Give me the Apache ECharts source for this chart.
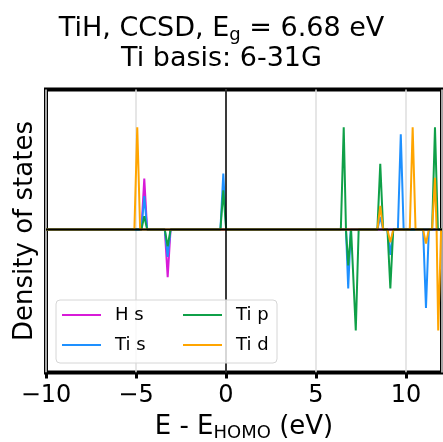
<!DOCTYPE html>
<html>
<head>
<meta charset="utf-8">
<script src="https://cdn.jsdelivr.net/npm/echarts@6/dist/echarts.min.js"></script>
<style>
  html, body { margin: 0; padding: 0; background: #fff; }
  #chart { width: 443px; height: 442px; }
</style>
</head>
<body>
<div id="chart"></div>
<script>
// projected DOS, spin up > 0, spin down < 0 (energy in eV, arbitrary units)
const hsDos = [
  [-10, 0], [-4.70, 0], [-4.54, 0.365], [-4.38, 0],
  [-3.40, 0], [-3.24, -0.34], [-3.08, 0], [12, 0],
];
const tisDos = [
  [-10, 0], [-4.70, 0], [-4.54, 0.24], [-4.38, 0],
  [-3.40, 0], [-3.24, -0.195], [-3.08, 0],
  [-0.31, 0], [-0.15, 0.40], [0.01, 0],
  [6.665, 0], [6.79, -0.42], [6.93, 0],
  [8.41, 0], [8.57, 0.09], [8.73, 0],
  [8.97, 0], [9.13, -0.18], [9.29, 0],
  [9.55, 0], [9.71, 0.68], [9.87, 0],
  [10.95, 0], [11.11, -0.56], [11.27, 0], [12, 0],
];
const tipDos = [
  [-10, 0], [-4.70, 0], [-4.54, 0.096], [-4.38, 0],
  [-3.40, 0], [-3.24, -0.12], [-3.08, 0],
  [-0.31, 0], [-0.15, 0.28], [0.01, 0],
  [6.38, 0], [6.54, 0.73], [6.665, 0], [6.79, -0.255], [6.95, 0],
  [7.05, 0], [7.21, -0.72], [7.37, 0],
  [8.41, 0], [8.57, 0.47], [8.73, 0],
  [8.97, 0], [9.13, -0.42], [9.29, 0],
  [11.45, 0], [11.61, 0.73], [11.77, 0], [12, 0],
];
const tidDos = [
  [-10, 0], [-5.09, 0], [-4.93, 0.73], [-4.77, 0],
  [8.41, 0], [8.57, 0.17], [8.73, 0],
  [8.97, 0], [9.13, -0.09], [9.29, 0],
  [10.21, 0], [10.37, 0.73], [10.53, 0],
  [10.95, 0], [11.11, -0.10], [11.27, 0],
  [11.45, 0], [11.61, 0.37], [11.70, 0], [11.79, -0.72], [11.95, 0], [12, 0],
];
const seriesNames = ['H s', 'Ti s', 'Ti p', 'Ti d'];
const seriesColors = ['#d81bd8', '#1e90ff', '#0fa048', '#ffa500'];
const xTicks = [-10, -5, 0, 5, 10];

const FONT = 'DejaVu Sans';
const chart = echarts.init(document.getElementById('chart'), null, { renderer: 'canvas' });

function dosSeries(name, data, color) {
  return {
    name: name,
    type: 'line',
    data: data,
    symbol: 'none',
    showSymbol: false,
    lineStyle: { color: color, width: 2 },
    itemStyle: { color: color },
    silent: true,
  };
}

const refLine = (data, width) => ({
  type: 'line',
  data: data,
  symbol: 'none',
  silent: true,
  lineStyle: { color: '#000', width: width },
  z: 3,
});

// legend columns: first column wider so the second lines up
const col1 = { width: 56 };
const col2 = { width: 33 };

chart.setOption({
  animation: false,
  backgroundColor: '#fff',
  title: {
    left: 'center',
    top: 9,
    text: '{n|TiH, CCSD, E}{s|g}{n| = 6.68 eV}\n{n|Ti basis: 6-31G}',
    textStyle: {
      rich: {
        n: { fontFamily: FONT, fontSize: 27, fontWeight: 'normal', color: '#000', lineHeight: 30 },
        s: { fontFamily: FONT, fontSize: 18, fontWeight: 'normal', color: '#000', lineHeight: 20, verticalAlign: 'bottom' },
      },
    },
  },
  grid: {
    left: 46, right: 1, top: 89.5, bottom: 69.5,
    containLabel: false,
    outerBoundsMode: 'none',
    show: true, borderColor: '#000', borderWidth: 4,
  },
  legend: {
    data: [
      { name: 'H s', textStyle: col1 },
      { name: 'Ti p', textStyle: col2 },
      { name: 'Ti s', textStyle: col1 },
      { name: 'Ti d', textStyle: col2 },
    ],
    left: 56, top: 300,
    width: 210,
    orient: 'horizontal',
    icon: 'rect',
    itemWidth: 39, itemHeight: 2, itemGap: 12,
    padding: [6, 8, 9, 6],
    backgroundColor: 'rgba(255,255,255,0.8)',
    borderColor: '#d6d6d6', borderWidth: 1, borderRadius: 4,
    textStyle: {
      fontFamily: FONT, fontSize: 18, color: '#000',
      lineHeight: 16, padding: [0, 0, 0, 9],
    },
  },
  xAxis: {
    type: 'value', min: -10, max: 12, interval: 5,
    axisLine: { show: false, onZero: false },
    axisTick: { show: true, length: 6, lineStyle: { color: '#000', width: 3 } },
    axisLabel: {
      fontFamily: FONT, fontSize: 24, color: '#000', margin: 11,
      showMaxLabel: false,
      alignMinLabel: 'center',
      formatter: v => (xTicks.includes(v) ? (v < 0 ? '\u2212' + (-v) : String(v)) : ''),
    },
    splitLine: { show: true, lineStyle: { color: '#dedede', width: 1.5 } },
    name: '{n|E - E}{s|HOMO}{n| (eV)}',
    nameLocation: 'middle',
    nameGap: 40,
    nameTextStyle: {
      rich: {
        n: { fontFamily: FONT, fontSize: 26, color: '#000', lineHeight: 30 },
        s: { fontFamily: FONT, fontSize: 18, color: '#000', lineHeight: 20, verticalAlign: 'bottom' },
      },
    },
  },
  yAxis: {
    type: 'value', min: -1.02, max: 1,
    axisLine: { show: false, onZero: false },
    axisTick: { show: false },
    axisLabel: { show: false },
    splitLine: { show: false },
    name: 'Density of states',
    nameLocation: 'middle',
    nameGap: 8,
    nameTextStyle: { fontFamily: FONT, fontSize: 26, color: '#000' },
  },
  series: [
    dosSeries(seriesNames[0], hsDos, seriesColors[0]),
    dosSeries(seriesNames[1], tisDos, seriesColors[1]),
    dosSeries(seriesNames[2], tipDos, seriesColors[2]),
    dosSeries(seriesNames[3], tidDos, seriesColors[3]),
    refLine([[-10, 0], [12, 0]], 2),
    refLine([[0, -1.02], [0, 1]], 1.5),
  ],
});
</script>
</body>
</html>
